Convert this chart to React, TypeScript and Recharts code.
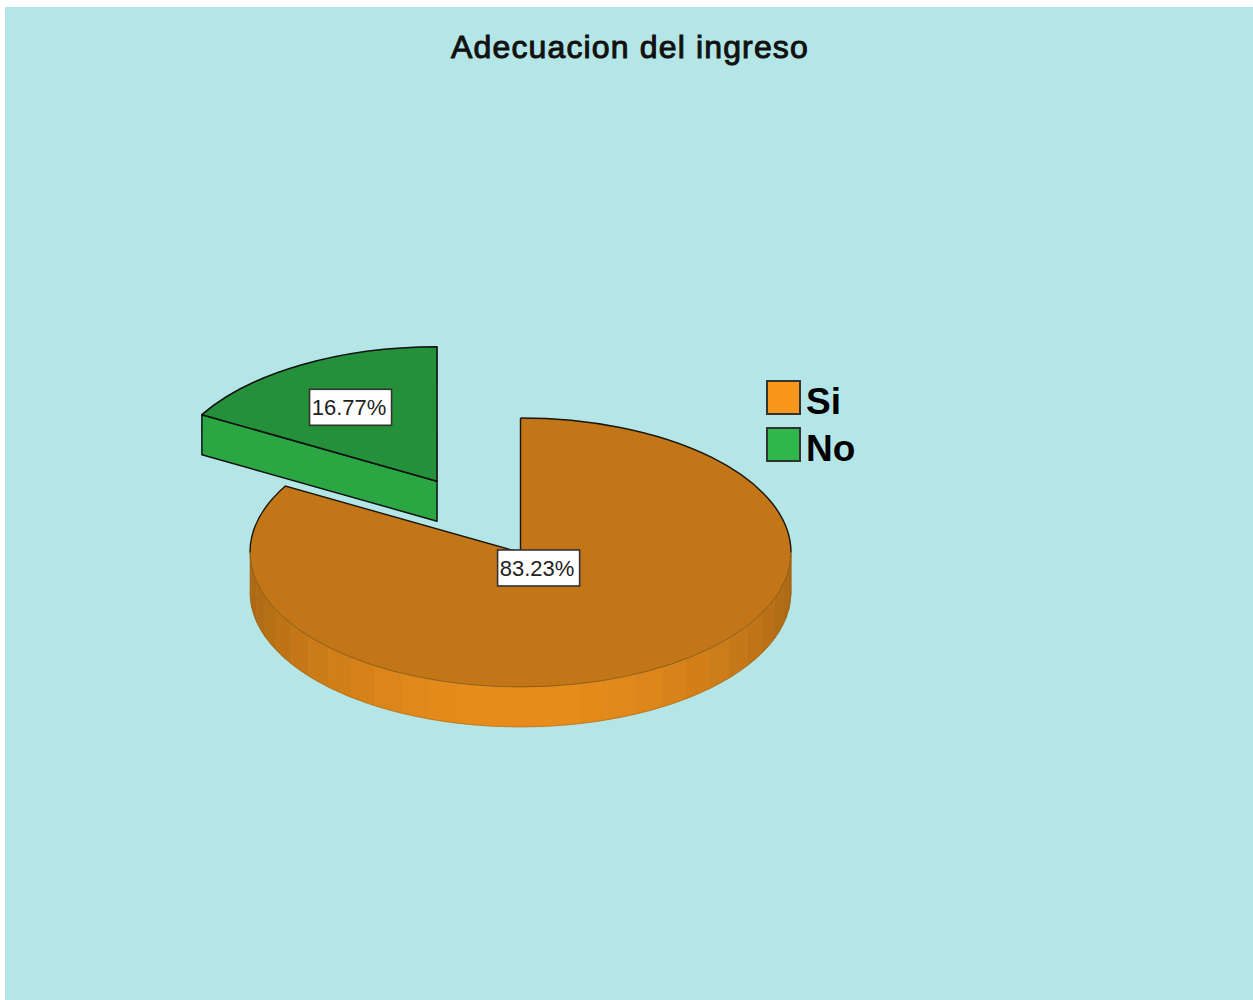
import { PieChart, Pie, Legend } from 'recharts';

const CATEGORIES = ['Si', 'No'];
const PERCENTAGES = [83.23, 16.77];
const SWATCH_COLORS = ['#f9971d', '#2eb84a'];

const TITLE = 'Adecuacion del ingreso';

const WIDTH = 1248;
const HEIGHT = 993;
const RADIUS = 270.5;
const SQUASH = 0.497;
const DEPTH = 40;
const FACET_DEG = 6.4;
const EXPLODED = 'No';
const EXPLODE_DIST = 166;
// how far along the mid angle each percentage box sits
const BOX_RADIUS: Record<string, number> = { Si: 36, No: 172 };

const tableData = CATEGORIES.map((name, i) => ({
  name,
  value: PERCENTAGES[i],
  fill: SWATCH_COLORS[i],
}));

const RAD = Math.PI / 180;

function shade(hex: string, k: number) {
  const n = parseInt(hex.slice(1), 16);
  const c = [(n >> 16) & 255, (n >> 8) & 255, n & 255].map(v => Math.round(v * k));
  return `rgb(${c[0]},${c[1]},${c[2]})`;
}

function rimPoint(cx: number, cy: number, deg: number) {
  return {
    x: cx + RADIUS * Math.cos(deg * RAD),
    y: cy - RADIUS * SQUASH * Math.sin(deg * RAD),
  };
}

// clockwise elliptical arc from angle a down to angle b
function arcTo(cx: number, cy: number, a: number, b: number) {
  const p = rimPoint(cx, cy, b);
  const large = Math.abs(a - b) > 180 ? 1 : 0;
  return `A ${RADIUS} ${RADIUS * SQUASH} 0 ${large} 1 ${p.x} ${p.y}`;
}

function arcBack(cx: number, cy: number, a: number) {
  const p = rimPoint(cx, cy, a);
  return `A ${RADIUS} ${RADIUS * SQUASH} 0 0 0 ${p.x} ${p.y}`;
}

function explodeOffset(name: string, midAngle: number) {
  if (name !== EXPLODED) return { dx: 0, dy: 0 };
  return {
    dx: EXPLODE_DIST * Math.cos(midAngle * RAD),
    dy: -EXPLODE_DIST * SQUASH * Math.sin(midAngle * RAD),
  };
}

function Slice3D(props: any) {
  const { name, fill, startAngle, endAngle, midAngle } = props;
  const { dx, dy } = explodeOffset(name, midAngle);
  const cx = props.cx + dx;
  const cy = props.cy + dy;
  const start = rimPoint(cx, cy, startAngle);
  const top = `M ${cx} ${cy} L ${start.x} ${start.y} ${arcTo(cx, cy, startAngle, endAngle)} Z`;

  // outer wall, only the part below the centre line faces the viewer
  const facets = [];
  const from = Math.min(startAngle, 0);
  const to = Math.max(endAngle, -180);
  for (let b = to; b < from; b += FACET_DEG) {
    const e = Math.min(b + FACET_DEG, from);
    const p = rimPoint(cx, cy, e);
    const low = rimPoint(cx, cy + DEPTH, b);
    const mid = (b + e) / 2;
    const color = shade(fill, 0.68 + 0.25 * Math.pow(Math.sin(-mid * RAD), 1.5));
    facets.push(
      <path
        key={b}
        d={`M ${p.x} ${p.y} ${arcTo(cx, cy, e, b)} L ${low.x} ${low.y} ${arcBack(cx, cy + DEPTH, e)} Z`}
        fill={color}
        stroke={color}
        strokeWidth={0.6}
      />
    );
  }

  const hasWall = facets.length > 0;
  const upperFrom = rimPoint(cx, cy, 90);
  const lowerFrom = rimPoint(cx, cy, from);
  const wallFrom = rimPoint(cx, cy + DEPTH, from);
  const leftRim = rimPoint(cx, cy, -180);

  return (
    <g>
      {facets}
      {hasWall && (
        <path
          d={`M ${wallFrom.x} ${wallFrom.y} ${arcTo(cx, cy + DEPTH, from, to)}`}
          fill="none"
          stroke="#8a5a16"
          strokeOpacity={0.5}
          strokeWidth={0.8}
        />
      )}
      {/* cut face of the pulled-out slice */}
      {name === EXPLODED && (
        <path
          d={`M ${cx} ${cy} L ${start.x} ${start.y} L ${start.x} ${start.y + DEPTH} L ${cx} ${cy + DEPTH} Z`}
          fill={shade(fill, 0.91)}
          stroke="#111"
          strokeWidth={1.5}
          strokeLinejoin="round"
        />
      )}
      <path d={top} fill={shade(fill, 0.78)} stroke="none" />
      {hasWall ? (
        <>
          <path
            d={`M ${lowerFrom.x} ${lowerFrom.y} ${arcTo(cx, cy, from, to)}`}
            fill="none"
            stroke="#6b4a12"
            strokeOpacity={0.7}
            strokeWidth={0.9}
          />
          <path
            d={`M ${upperFrom.x} ${upperFrom.y} ${arcTo(cx, cy, startAngle, 0)}`}
            fill="none"
            stroke="#1c1408"
            strokeWidth={1.4}
          />
          <path
            d={`M ${leftRim.x} ${leftRim.y} ${arcTo(cx, cy, -180, endAngle)} L ${cx} ${cy} L ${cx} ${upperFrom.y}`}
            fill="none"
            stroke="#1c1408"
            strokeWidth={1.4}
          />
        </>
      ) : (
        <path d={top} fill="none" stroke="#111" strokeWidth={1.6} strokeLinejoin="round" />
      )}
    </g>
  );
}

function PercentBox(props: any) {
  const { cx, cy, midAngle, name, value } = props;
  const r = BOX_RADIUS[name];
  const origin = explodeOffset(name, midAngle);
  const bx = cx + origin.dx + r * Math.cos(midAngle * RAD);
  const by = cy + origin.dy - r * SQUASH * Math.sin(midAngle * RAD);
  return (
    <g>
      <rect x={bx - 41} y={by - 18} width={82} height={36} fill="#fff" stroke="#333" strokeWidth={1.6} />
      <text
        x={bx - 1.5}
        y={by + 8}
        textAnchor="middle"
        fontFamily="'Liberation Sans', Arial, sans-serif"
        fontSize={22}
        fill="#222"
      >
        {`${value.toFixed(2)}%`}
      </text>
    </g>
  );
}

function SwatchLegend() {
  return (
    <div>
      {tableData.map(d => (
        <div key={d.name} style={{ display: 'flex', alignItems: 'center', height: 47 }}>
          <span
            style={{
              display: 'inline-block',
              boxSizing: 'border-box',
              width: 35,
              height: 35,
              background: d.fill,
              border: '2px solid #333',
              marginRight: 5,
            }}
          />
          <span
            style={{
              position: 'relative',
              top: 4,
              fontFamily: "'Liberation Sans', Arial, sans-serif",
              fontWeight: 700,
              fontSize: 37,
              lineHeight: '47px',
              color: '#000',
            }}
          >
            {d.name}
          </span>
        </div>
      ))}
    </div>
  );
}

export default function App() {
  return (
    <div
      style={{
        position: 'absolute',
        left: 5,
        top: 7,
        width: WIDTH,
        height: HEIGHT,
        background: '#b5e6e7',
      }}
    >
      <PieChart width={WIDTH} height={HEIGHT} margin={{ top: 0, right: 0, bottom: 0, left: 0 }}>
        <text
          x={625}
          y={51}
          textAnchor="middle"
          fontFamily="'Liberation Sans', Arial, sans-serif"
          fontSize={32}
          letterSpacing={1.15}
          stroke="#111"
          strokeWidth={1}
          fill="#111"
        >
          {TITLE}
        </text>
        <Pie
          data={tableData}
          dataKey="value"
          nameKey="name"
          cx={515.5}
          cy={545.5}
          innerRadius={0}
          outerRadius={RADIUS}
          startAngle={90}
          endAngle={-270}
          stroke="none"
          isAnimationActive={false}
          shape={Slice3D}
          label={PercentBox}
          labelLine={false}
          rootTabIndex={-1}
        />
        <Legend
          layout="vertical"
          align="center"
          verticalAlign="middle"
          content={SwatchLegend}
          wrapperStyle={{ left: 761, top: 367, width: 110, margin: 0 }}
        />
      </PieChart>
    </div>
  );
}
